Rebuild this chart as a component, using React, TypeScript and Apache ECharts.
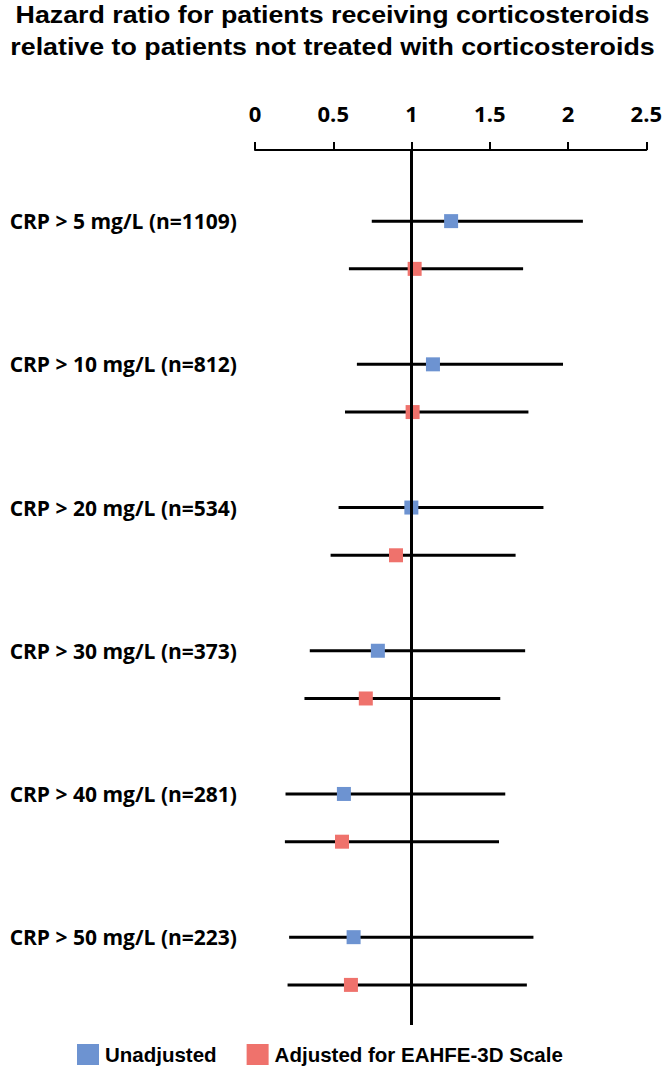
import React, { useEffect, useRef } from "react";
import * as echarts from "echarts";

const titleLines = [
  "Hazard ratio for patients receiving corticosteroids",
  "relative to patients not treated with corticosteroids",
];
const categories = [
  "CRP > 5 mg/L (n=1109)",
  "CRP > 10 mg/L (n=812)",
  "CRP > 20 mg/L (n=534)",
  "CRP > 30 mg/L (n=373)",
  "CRP > 40 mg/L (n=281)",
  "CRP > 50 mg/L (n=223)",
];
const seriesNames = ["Unadjusted", "Adjusted for EAHFE-3D Scale"];
const unadjHR = [1.253, 1.137, 0.999, 0.785, 0.568, 0.63];
const unadjLow = [0.746, 0.651, 0.534, 0.35, 0.195, 0.218];
const unadjHigh = [2.095, 1.968, 1.843, 1.726, 1.599, 1.779];
const adjHR = [1.02, 1.007, 0.901, 0.708, 0.556, 0.613];
const adjLow = [0.6, 0.575, 0.483, 0.316, 0.191, 0.208];
const adjHigh = [1.713, 1.747, 1.665, 1.567, 1.559, 1.737];
const xTicks = [0, 0.5, 1, 1.5, 2, 2.5];
const refValue = 1;

const colors = ["#6D93D1", "#EF726C"];

export default function App() {
  const ref = useRef<HTMLDivElement>(null);
  useEffect(() => {
    if (!ref.current) return;
    const chart = echarts.init(ref.current, null, { renderer: "svg" });
    // positions on a value y-axis: unadjusted at 3k, adjusted at 3k+1
    const yU = categories.map((_, i) => i * 3);
    const yA = categories.map((_, i) => i * 3 + 1);
    const whiskers = [
      ...categories.map((_, i) => [unadjLow[i], unadjHigh[i], yU[i]]),
      ...categories.map((_, i) => [adjLow[i], adjHigh[i], yA[i]]),
    ];
    const option: any = {
      animation: false,
      backgroundColor: "#ffffff",
      graphic: titleLines.map((t, i) => ({
        type: "text",
        x: 332.5,
        y: 15 + i * 32,
        scaleX: 1.165,
        style: {
          text: t,
          fill: "#000",
          font: "bold 23px 'Liberation Sans', Arial, sans-serif",
          textAlign: "center",
          textVerticalAlign: "middle",
        },
      })),
      legend: {
        data: seriesNames,
        left: 72,
        top: 1039,
        icon: "rect",
        itemWidth: 22,
        itemHeight: 21,
        itemGap: 30,
        textStyle: {
          fontFamily: "'Liberation Sans', Arial, sans-serif",
          fontWeight: "bold",
          fontSize: 20.5,
          color: "#000",
          padding: [0, 0, 0, 1],
        },
      },
      grid: { left: 255, right: 17, top: 150, bottom: 41, containLabel: false },
      xAxis: {
        type: "value",
        position: "top",
        min: xTicks[0],
        max: xTicks[xTicks.length - 1],
        interval: 0.5,
        splitLine: { show: false },
        axisLine: { show: true, onZero: false, lineStyle: { color: "#000", width: 2 } },
        axisTick: { show: true, length: 8, lineStyle: { color: "#000", width: 2 } },
        axisLabel: {
          color: "#000",
          fontFamily: "'Open Sans', Lato, sans-serif",
          fontWeight: "bold",
          fontSize: 22,
          margin: 26,
          formatter: (v: number) => String(v),
        },
      },
      yAxis: {
        type: "value",
        inverse: true,
        min: -1.49,
        max: 16.84,
        splitLine: { show: false },
        axisLine: { show: false },
        axisTick: { show: false },
        axisLabel: {
          customValues: yU,
          color: "#000",
          fontFamily: "'Open Sans', Lato, sans-serif",
          fontWeight: "bold",
          fontSize: 21,
          margin: 18,
          formatter: (v: number) => categories[Math.round(v / 3)] ?? "",
        },
      },
      series: [
        {
          type: "custom",
          name: "ci",
          z: 2,
          silent: true,
          encode: { x: [0, 1], y: 2 },
          data: whiskers,
          renderItem: (params: any, api: any) => {
            const p1 = api.coord([api.value(0), api.value(2)]);
            const p2 = api.coord([api.value(1), api.value(2)]);
            return {
              type: "line",
              shape: { x1: p1[0], y1: p1[1], x2: p2[0], y2: p2[1] },
              style: { stroke: "#000", lineWidth: 3 },
            };
          },
        },
        {
          type: "scatter",
          name: seriesNames[0],
          z: 3,
          symbol: "rect",
          symbolSize: 14,
          itemStyle: { color: colors[0], opacity: 1 },
          data: unadjHR.map((v, i) => [v, yU[i]]),
        },
        {
          type: "scatter",
          name: seriesNames[1],
          z: 3,
          symbol: "rect",
          symbolSize: 14,
          itemStyle: { color: colors[1], opacity: 1 },
          data: adjHR.map((v, i) => [v, yA[i]]),
        },
        {
          type: "line",
          name: "ref",
          z: 10,
          data: [],
          markLine: {
            silent: true,
            symbol: "none",
            label: { show: false },
            lineStyle: { color: "#000", width: 3, type: "solid" },
            data: [{ xAxis: refValue }],
          },
        },
      ],
    };
    chart.setOption(option);
    return () => chart.dispose();
  }, []);
  return (
    <div
      ref={ref}
      style={{ position: "absolute", left: 0, top: 0, width: 665, height: 1066 }}
    />
  );
}
